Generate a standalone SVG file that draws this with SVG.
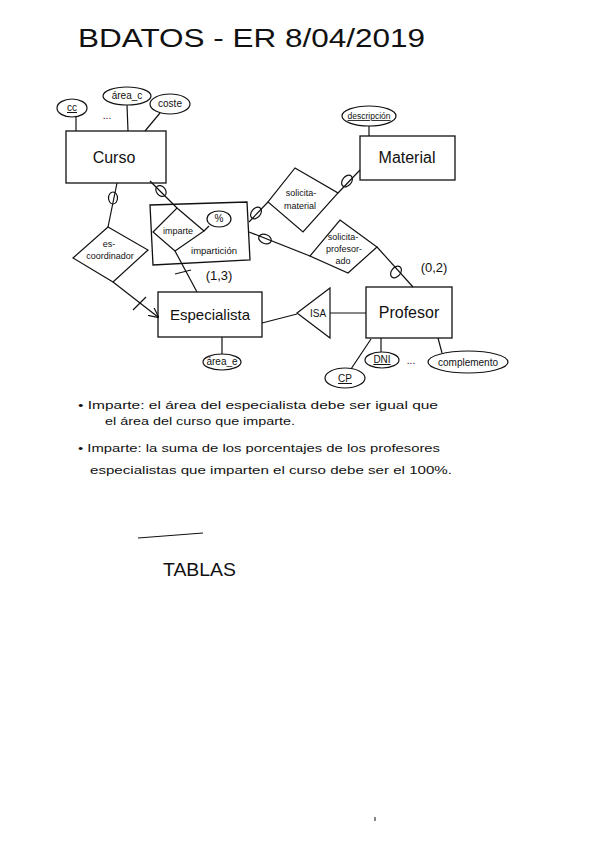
<svg xmlns="http://www.w3.org/2000/svg" width="600" height="848" viewBox="0 0 600 848">
<style>
text{font-family:"Liberation Sans","DejaVu Sans",sans-serif;fill:#111}
.ent{fill:none;stroke:#111;stroke-width:1.3}
.ln{fill:none;stroke:#111;stroke-width:1.2}
.at{fill:#fff;stroke:#111;stroke-width:1.2}
.c{fill:none;stroke:#111;stroke-width:1.2}
.en{font-size:16px;text-anchor:middle}
.a{font-size:10px;text-anchor:middle}
.r{font-size:9px;text-anchor:middle}
.n{font-size:11.5px}
</style>
<defs>
<marker id="arr" viewBox="0 0 10 10" refX="9" refY="5" markerWidth="10" markerHeight="10" orient="auto" markerUnits="userSpaceOnUse">
<path d="M0,0 L10,5 L0,10" fill="none" stroke="#111" stroke-width="1.2"/>
</marker>
</defs>
<rect width="600" height="848" fill="#fff"/>
<text x="78" y="47" font-size="25" textLength="347" lengthAdjust="spacingAndGlyphs">BDATOS - ER 8/04/2019</text>

<g id="connectors">
<line class="ln" x1="76" y1="117" x2="76" y2="131"/>
<line class="ln" x1="127" y1="105" x2="128" y2="131"/>
<line class="ln" x1="160" y1="113" x2="145" y2="131"/>
<line class="ln" x1="369" y1="126" x2="369" y2="136"/>
<line class="ln" x1="117" y1="183" x2="108" y2="227"/>
<ellipse class="c" cx="113" cy="198" rx="4.5" ry="6"/>
<line class="ln" x1="150" y1="181" x2="177" y2="208"/>
<ellipse class="c" cx="161" cy="191" rx="4.5" ry="6" transform="rotate(-40 161 191)"/>
<line class="ln" x1="113" y1="282" x2="158" y2="317" marker-end="url(#arr)"/>
<line class="ln" x1="133" y1="310" x2="146" y2="297"/>
<line class="ln" x1="175" y1="251" x2="197" y2="292"/>
<line class="ln" x1="175" y1="274" x2="191" y2="270"/>
<line class="ln" x1="338" y1="193" x2="360" y2="170"/>
<ellipse class="c" cx="347" cy="181" rx="4.5" ry="6.5" transform="rotate(40 347 181)"/>
<line class="ln" x1="268" y1="202" x2="249" y2="222"/>
<ellipse class="c" cx="256" cy="213" rx="4.5" ry="6.5" transform="rotate(40 256 213)"/>
<line class="ln" x1="310" y1="256" x2="249" y2="232"/>
<ellipse class="c" cx="265" cy="239" rx="6.5" ry="4.5" transform="rotate(20 265 239)"/>
<line class="ln" x1="377" y1="247" x2="413" y2="287"/>
<ellipse class="c" cx="396" cy="272" rx="4.5" ry="6.5" transform="rotate(40 396 272)"/>
<text x="434" y="272" font-size="13" text-anchor="middle">(0,2)</text>
<text x="219" y="280" font-size="13" text-anchor="middle">(1,3)</text>
<line class="ln" x1="262" y1="323" x2="297" y2="314"/>
<line class="ln" x1="330" y1="313" x2="366" y2="313"/>
<line class="ln" x1="222" y1="337" x2="222" y2="354"/>
<line class="ln" x1="381" y1="338" x2="381" y2="352"/>
<line class="ln" x1="438" y1="338" x2="442" y2="353"/>
<line class="ln" x1="371" y1="339" x2="351" y2="369"/>
<line class="ln" x1="204" y1="231" x2="209" y2="226"/>
</g>

<g id="curso">
<rect class="ent" x="66" y="131" width="100" height="52"/>
<text class="en" x="114" y="163">Curso</text>
</g>
<g id="attr-cc">
<ellipse class="at" cx="72" cy="108" rx="15" ry="9"/>
<text class="a" x="72" y="111" text-decoration="underline">cc</text>
</g>
<text x="107" y="119" font-size="10" text-anchor="middle">...</text>
<g id="attr-area-c">
<ellipse class="at" cx="127" cy="96" rx="24" ry="9"/>
<text class="a" x="127" y="99">área_c</text>
</g>
<g id="attr-coste">
<ellipse class="at" cx="170" cy="104" rx="20" ry="10"/>
<text class="a" x="170" y="107">coste</text>
</g>

<g id="material">
<rect class="ent" x="360" y="136" width="95" height="44"/>
<text class="en" x="407" y="163">Material</text>
</g>
<g id="attr-descripcion">
<ellipse class="at" cx="369" cy="116" rx="27" ry="10"/>
<text x="369" y="119" font-size="8.5" text-anchor="middle" text-decoration="underline">descripción</text>
</g>

<g id="solicita-material">
<polygon class="at" points="295,168 338,193 303,232 268,202"/>
<text class="r" x="301" y="196">solicita-</text>
<text class="r" x="300" y="209">material</text>
</g>

<g id="solicita-profesor-ado">
<polygon class="at" points="340,220 377,247 348,273 310,256"/>
<text class="r" x="343" y="240">solicita-</text>
<text class="r" x="344" y="252">profesor-</text>
<text class="r" x="343" y="264">ado</text>
</g>

<g id="imparticion">
<polygon class="ent" points="150,205 247,202 250,260 153,265"/>
<text x="214" y="254" font-size="9.5" text-anchor="middle">impartición</text>
</g>
<g id="imparte">
<polygon class="at" points="177,208 204,231 175,251 153,232"/>
<text x="178" y="234" font-size="9" text-anchor="middle">imparte</text>
</g>
<g id="attr-porcentaje">
<ellipse class="at" cx="219" cy="219" rx="12" ry="8"/>
<text class="a" x="219" y="222">%</text>
</g>

<g id="es-coordinador">
<polygon class="at" points="108,227 148,250 113,282 73,258"/>
<text class="r" x="109" y="247">es-</text>
<text class="r" x="110" y="259">coordinador</text>
</g>

<g id="especialista">
<rect class="ent" x="158" y="292" width="104" height="45"/>
<text x="210" y="320" font-size="15" text-anchor="middle">Especialista</text>
</g>
<g id="attr-area-e">
<ellipse class="at" cx="222" cy="362" rx="19" ry="8"/>
<text class="a" x="222" y="365">área_e</text>
</g>

<g id="isa">
<polygon class="at" points="297,313 330,288 330,338"/>
<text x="318" y="317" font-size="10" text-anchor="middle">ISA</text>
</g>

<g id="profesor">
<rect class="ent" x="366" y="287" width="86" height="51"/>
<text class="en" x="409" y="318">Profesor</text>
</g>
<g id="attr-dni">
<ellipse class="at" cx="382" cy="360" rx="17" ry="8"/>
<text class="a" x="382" y="363" text-decoration="underline">DNI</text>
</g>
<text x="411" y="364" font-size="10" text-anchor="middle">...</text>
<g id="attr-complemento">
<ellipse class="at" cx="468" cy="362" rx="40" ry="11"/>
<text class="a" x="468" y="366">complemento</text>
</g>
<g id="attr-cp">
<ellipse class="at" cx="345" cy="378" rx="20" ry="10"/>
<text class="a" x="345" y="382" text-decoration="underline">CP</text>
</g>

<g id="notes">
<text class="n" x="78" y="409" textLength="360" lengthAdjust="spacingAndGlyphs">• Imparte: el área del especialista debe ser igual que</text>
<text class="n" x="105" y="425" textLength="190" lengthAdjust="spacingAndGlyphs">el área del curso que imparte.</text>
<text class="n" x="78" y="452" textLength="362" lengthAdjust="spacingAndGlyphs">• Imparte: la suma de los porcentajes de los profesores</text>
<text class="n" x="90" y="474" textLength="362" lengthAdjust="spacingAndGlyphs">especialistas que imparten el curso debe ser el 100%.</text>
</g>

<line class="ln" x1="138" y1="538" x2="203" y2="533"/>
<text x="163" y="576" font-size="19" textLength="73" lengthAdjust="spacingAndGlyphs">TABLAS</text>
<rect x="374" y="817" width="2" height="4" fill="#888"/>
</svg>
